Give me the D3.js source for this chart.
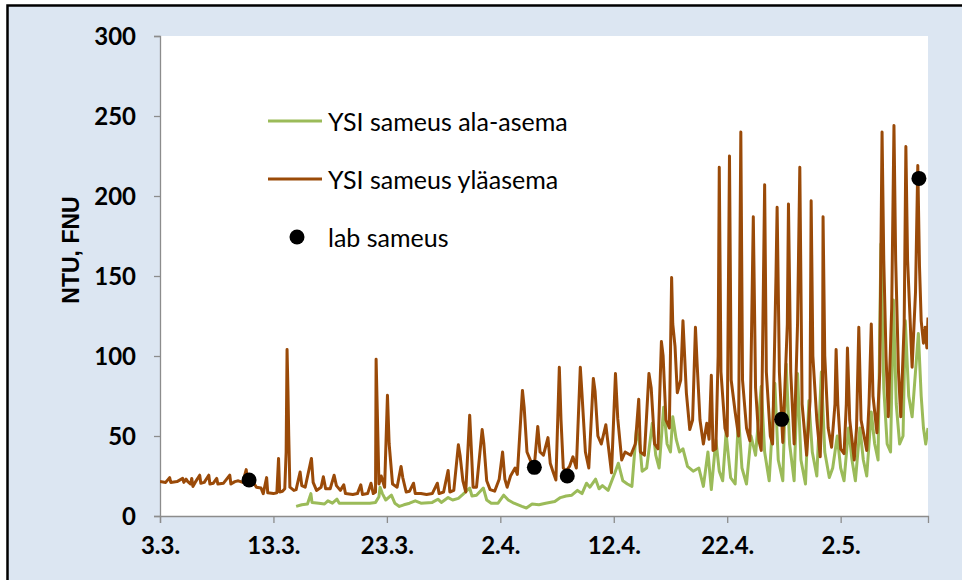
<!DOCTYPE html>
<html>
<head>
<meta charset="utf-8">
<script src="https://cdn.jsdelivr.net/npm/d3@7/dist/d3.min.js"></script>
<style>
  body { margin: 0; background: #fff; }
  svg text { font-family: Lato, "Open Sans", sans-serif; }
</style>
</head>
<body>
<div id="chart"></div>
<script>
// measurement start, days are counted from here
const startDate = "2010-03-03";
const endDay = 67.7;
const tickDates = ["2010-03-03", "2010-03-13", "2010-03-23", "2010-04-02", "2010-04-12", "2010-04-22", "2010-05-02"];
const yTicks = [0, 50, 100, 150, 200, 250, 300];

// YSI sameus yläasema (brown)
const ylaDay = [0.0, 0.5, 0.85, 0.95, 1.5, 2.0, 2.1, 2.3, 2.45, 2.7, 2.8, 2.9, 3.1, 3.5, 3.6, 3.9, 4.3, 4.4, 4.7, 5.0,
  5.1, 5.6, 6.15, 6.25, 6.6, 6.9, 7.3, 7.6, 7.7, 8.1, 8.5, 8.9, 9.1, 9.4, 9.5, 10.0, 10.3, 10.45, 10.55, 10.8,
  11.0, 11.12, 11.2, 11.28, 11.35, 11.45, 11.8, 12.0, 12.35, 12.5, 12.8, 13.35, 13.5, 13.8, 14.2, 14.4, 14.6, 15.0, 15.35, 15.55,
  15.9, 16.2, 16.35, 17.0, 17.4, 17.7, 17.85, 18.3, 18.6, 18.8, 19.0, 19.05, 19.15, 19.3, 19.5, 19.8, 20.05, 20.2, 20.5, 20.9,
  21.25, 21.4, 21.7, 22.0, 22.35, 22.5, 23.0, 23.5, 24.0, 24.45, 24.6, 25.0, 25.4, 25.55, 25.9, 26.3, 26.45, 26.7, 26.95, 27.3,
  27.45, 27.6, 27.9, 28.4, 28.55, 28.8, 29.1, 29.5, 29.9, 30.2, 30.4, 30.6, 30.9, 31.3, 31.5, 31.95, 32.1, 32.35, 32.7, 33.0,
  33.3, 33.5, 33.8, 34.2, 34.4, 34.7, 34.9, 35.2, 35.35, 35.55, 35.8, 36.1, 36.4, 36.7, 37.05, 37.2, 37.5, 37.8, 38.2, 38.35,
  38.6, 38.9, 39.3, 39.5, 39.8, 40.15, 40.35, 40.7, 41.0, 41.5, 41.9, 42.2, 42.35, 42.7, 43.1, 43.3, 43.6, 43.9, 44.2, 44.35,
  44.6, 44.9, 45.1, 45.2, 45.4, 45.6, 45.9, 46.1, 46.4, 46.7, 46.95, 47.2, 47.35, 47.6, 47.9, 48.2, 48.4, 48.6, 48.75, 49.0,
  49.2, 49.3, 49.45, 49.8, 50.0, 50.2, 50.35, 50.7, 51.0, 51.2, 51.35, 51.7, 52.0, 52.3, 52.5, 52.8, 53.0, 53.2, 53.3, 53.45,
  53.8, 54.0, 54.3, 54.4, 54.6, 54.9, 55.3, 55.4, 55.6, 55.9, 56.2, 56.4, 56.6, 57.0, 57.3, 57.4, 57.55, 57.9, 58.2, 58.4,
  58.45, 58.6, 58.9, 59.2, 59.5, 59.6, 59.75, 60.0, 60.3, 60.5, 60.6, 60.8, 61.2, 61.4, 61.6, 61.8, 62.3, 62.5, 62.7, 62.85,
  63.2, 63.45, 63.65, 63.8, 64.0, 64.2, 64.5, 64.7, 64.85, 65.1, 65.3, 65.6, 65.75, 65.9, 66.3, 66.6, 66.8, 66.95, 67.1, 67.3,
  67.45, 67.6, 67.7];
const ylaNTU = [21.5, 21, 24, 21, 21.5, 23.5, 21, 23, 21.5, 20, 23.5, 18.5, 21, 25.5, 20.5, 21, 25.5, 20, 20.5, 23.5,
  20, 20.5, 25.5, 20, 21.5, 22, 21, 29, 22, 22.5, 18, 17.5, 14, 24, 14.5, 14, 14.5, 36, 15, 15.5,
  17, 40, 104, 78, 50, 18, 16, 16.5, 27.5, 19, 18, 36, 21, 16, 18, 24.5, 17, 17, 25.5, 19,
  16, 19.5, 14, 13.5, 14, 19.5, 13.5, 14, 20.5, 14, 15, 98, 67, 20, 25, 18, 75.5, 45, 20, 18,
  31, 24, 15, 15.5, 20.5, 14, 14, 13.5, 14, 20.5, 14, 15, 28.5, 15, 16, 44.5, 38, 22, 15, 63,
  41, 18, 18, 54, 45, 22, 16.5, 15.5, 23, 40, 23, 18, 25, 30, 26, 78.5, 68, 40, 34, 31.5,
  56, 40, 38, 49, 33, 26.5, 22.5, 93, 60, 30, 28, 31, 37, 30, 93, 76, 40, 30, 86, 78,
  50, 45, 57, 45, 27, 89, 61, 35, 40, 38, 45, 73, 40, 38, 89, 80, 45, 42, 109, 100,
  60, 55, 149, 120, 106, 77, 85, 122, 77, 54, 60, 118, 95, 60, 45, 58, 48, 88, 41, 42,
  100, 218, 90, 55, 50, 225, 85, 65, 50, 240, 85, 55, 47, 187, 80, 47, 41, 150, 207, 90,
  50, 45, 150, 193, 90, 46, 120, 195, 90, 45, 120, 218, 70, 38, 72, 197, 100, 60, 37, 80,
  187, 100, 55, 43, 70, 104, 70, 42, 39, 70, 105, 60, 35, 55, 118, 60, 41, 70, 120, 75,
  52, 90, 240, 160, 100, 62, 130, 244, 160, 90, 62, 120, 231, 160, 93, 140, 219, 156, 122, 108,
  118, 105, 124];

// YSI sameus ala-asema (green)
const alaDay = [12.0, 12.5, 13.0, 13.3, 13.4, 14.0, 14.5, 14.8, 15.2, 15.6, 15.8, 16.5, 17.5, 18.5, 19.0, 19.3, 19.4, 19.6, 19.9, 20.4,
  20.7, 21.1, 21.5, 22.0, 22.5, 23.0, 24.0, 24.5, 24.8, 25.4, 25.8, 26.3, 26.7, 27.3, 27.5, 27.9, 28.5, 28.8, 29.2, 29.8,
  30.3, 30.7, 31.2, 31.9, 32.3, 32.8, 33.4, 34.0, 34.8, 35.3, 35.8, 36.3, 36.8, 37.2, 37.6, 37.9, 38.4, 38.7, 39.0, 39.5,
  40.1, 40.4, 40.8, 41.2, 41.6, 42.0, 42.3, 42.5, 42.9, 43.4, 43.7, 44.0, 44.4, 44.7, 45.0, 45.2, 45.5, 45.8, 46.1, 46.5,
  47.0, 47.5, 47.9, 48.3, 48.6, 49.0, 49.3, 49.6, 49.9, 50.3, 50.7, 51.0, 51.3, 51.7, 52.1, 52.5, 53.0, 53.3, 53.7, 54.2,
  54.5, 54.9, 55.2, 55.5, 55.9, 56.2, 56.5, 56.9, 57.2, 57.5, 57.9, 58.3, 58.6, 59.0, 59.3, 59.7, 60.0, 60.3, 60.7, 61.0,
  61.3, 61.7, 62.0, 62.3, 62.7, 63.0, 63.3, 63.55, 63.8, 64.1, 64.4, 64.65, 64.9, 65.2, 65.5, 65.7, 66.0, 66.3, 66.85, 67.1,
  67.3, 67.5, 67.7];
const alaNTU = [6, 7, 7.5, 14, 8.5, 8, 7.5, 9.5, 8, 10.5, 8, 8, 8, 8, 8.5, 12, 18, 14, 10, 13,
  8, 6, 7, 8, 9.5, 8, 8.5, 10.5, 8.5, 11.5, 10, 11, 13.5, 17.5, 12.5, 13, 17.5, 10, 8, 8,
  13, 10, 8, 6, 5, 7.5, 7, 8, 9, 11.5, 12.5, 13, 16, 14, 20.5, 18, 23, 17, 19, 16,
  27, 33, 22, 20, 18.5, 54, 44, 28, 30, 58, 38, 30, 68, 45, 40, 62, 48, 40, 42, 31,
  28, 30, 18.5, 40, 16.5, 47.5, 28, 22, 52, 24, 20, 62, 30, 20, 50, 38, 81, 40, 22, 83,
  35, 22, 95, 45, 22, 89, 35, 20, 72, 40, 25, 90, 40, 24, 30, 50, 30, 22, 55, 35,
  22, 55, 35, 25, 65, 45, 35, 170, 80, 45, 40, 135, 70, 45, 50, 122, 75, 62, 114, 75,
  55, 45, 55];

// lab sameus
const labDay = [7.85, 33.0, 35.9, 54.8, 66.9];
const labNTU = [22.5, 30.4, 25, 60.4, 211];

const legendItems = ["YSI sameus ala-asema", "YSI sameus yläasema", "lab sameus"];
const colors = { ala: "#9bbb59", yla: "#9a4a08", lab: "#000000" };

const width = 962, height = 580;
const margin = { left: 160, top: 36, right: 34, bottom: 64 };
const innerW = width - margin.left - margin.right;
const innerH = height - margin.top - margin.bottom;

const t0 = d3.utcParse("%Y-%m-%d")(startDate);
const toDate = d => new Date(t0.getTime() + d * 864e5);

const x = d3.scaleUtc().domain([t0, toDate(endDay)]).range([0, innerW]);
const y = d3.scaleLinear().domain([0, 300]).range([innerH, 0]);

const svg = d3.select("#chart").append("svg")
  .attr("width", width)
  .attr("height", height);

// chart area with the dark frame
svg.append("rect")
  .attr("x", 7.5).attr("y", 5.5)
  .attr("width", width + 10).attr("height", height + 10)
  .attr("fill", "#dce6f2")
  .attr("stroke", "#000").attr("stroke-width", 2.5);

const g = svg.append("g")
  .attr("transform", `translate(${margin.left},${margin.top})`);

g.append("rect")
  .attr("width", innerW).attr("height", innerH)
  .attr("fill", "#fff");

g.append("clipPath").attr("id", "plotclip")
  .append("rect").attr("y", -4).attr("width", innerW).attr("height", innerH + 4);

// axes
const yAxis = g.append("g")
  .call(d3.axisLeft(y).tickValues(yTicks).tickSize(6).tickPadding(18));
const xAxis = g.append("g")
  .attr("transform", `translate(0,${innerH})`)
  .call(d3.axisBottom(x)
    .tickValues(tickDates.map(d3.utcParse("%Y-%m-%d")))
    .tickFormat(d3.utcFormat("%-d.%-m."))
    .tickSize(7).tickPadding(14));

[xAxis, yAxis].forEach(a => {
  a.select(".domain").attr("stroke", "#8c8c8c").attr("stroke-width", 1.3);
  a.selectAll(".tick line").attr("stroke", "#8c8c8c").attr("stroke-width", 1.3);
  a.selectAll(".tick text")
    .attr("fill", "#000")
    .style("font-family", "Lato, sans-serif")
    .style("font-weight", "700")
    .style("font-size", "24px");
});
yAxis.selectAll(".tick text").attr("dy", "0.36em");
xAxis.selectAll(".tick text").attr("dy", "0.71em");

svg.append("text")
  .attr("transform", "translate(71,250) rotate(-90)")
  .attr("text-anchor", "middle")
  .attr("dominant-baseline", "central")
  .style("font-family", "'Liberation Sans', Arial, sans-serif")
  .style("font-weight", "700")
  .style("font-size", "23px")
  .text("NTU, FNU");

// series: ala-asema first, yläasema drawn over it
const line = d3.line()
  .x(d => x(toDate(d[0])))
  .y(d => y(d[1]));

const plot = g.append("g").attr("clip-path", "url(#plotclip)");

plot.append("path")
  .datum(d3.zip(alaDay, alaNTU))
  .attr("fill", "none")
  .attr("stroke", colors.ala)
  .attr("stroke-width", 3)
  .attr("stroke-linejoin", "round")
  .attr("d", line);

plot.append("path")
  .datum(d3.zip(ylaDay, ylaNTU))
  .attr("fill", "none")
  .attr("stroke", colors.yla)
  .attr("stroke-width", 3)
  .attr("stroke-linejoin", "round")
  .attr("d", line);

g.selectAll(".lab")
  .data(d3.zip(labDay, labNTU))
  .enter().append("circle")
  .attr("class", "lab")
  .attr("cx", d => x(toDate(d[0])))
  .attr("cy", d => y(d[1]))
  .attr("r", 7.5)
  .attr("fill", colors.lab);

// legend
const legend = svg.append("g").attr("transform", "translate(268,121)");
const rowGap = 58;
legendItems.forEach((name, i) => {
  const row = legend.append("g").attr("transform", `translate(0,${i * rowGap})`);
  if (i < 2) {
    row.append("line")
      .attr("x1", 0).attr("x2", 54)
      .attr("stroke", i === 0 ? colors.ala : colors.yla)
      .attr("stroke-width", 3);
  } else {
    row.append("circle").attr("cx", 29).attr("r", 7.5).attr("fill", colors.lab);
  }
  row.append("text")
    .attr("x", 60)
    .attr("dominant-baseline", "central")
    .style("font-size", "25px")
    .text(name);
});
</script>
</body>
</html>
